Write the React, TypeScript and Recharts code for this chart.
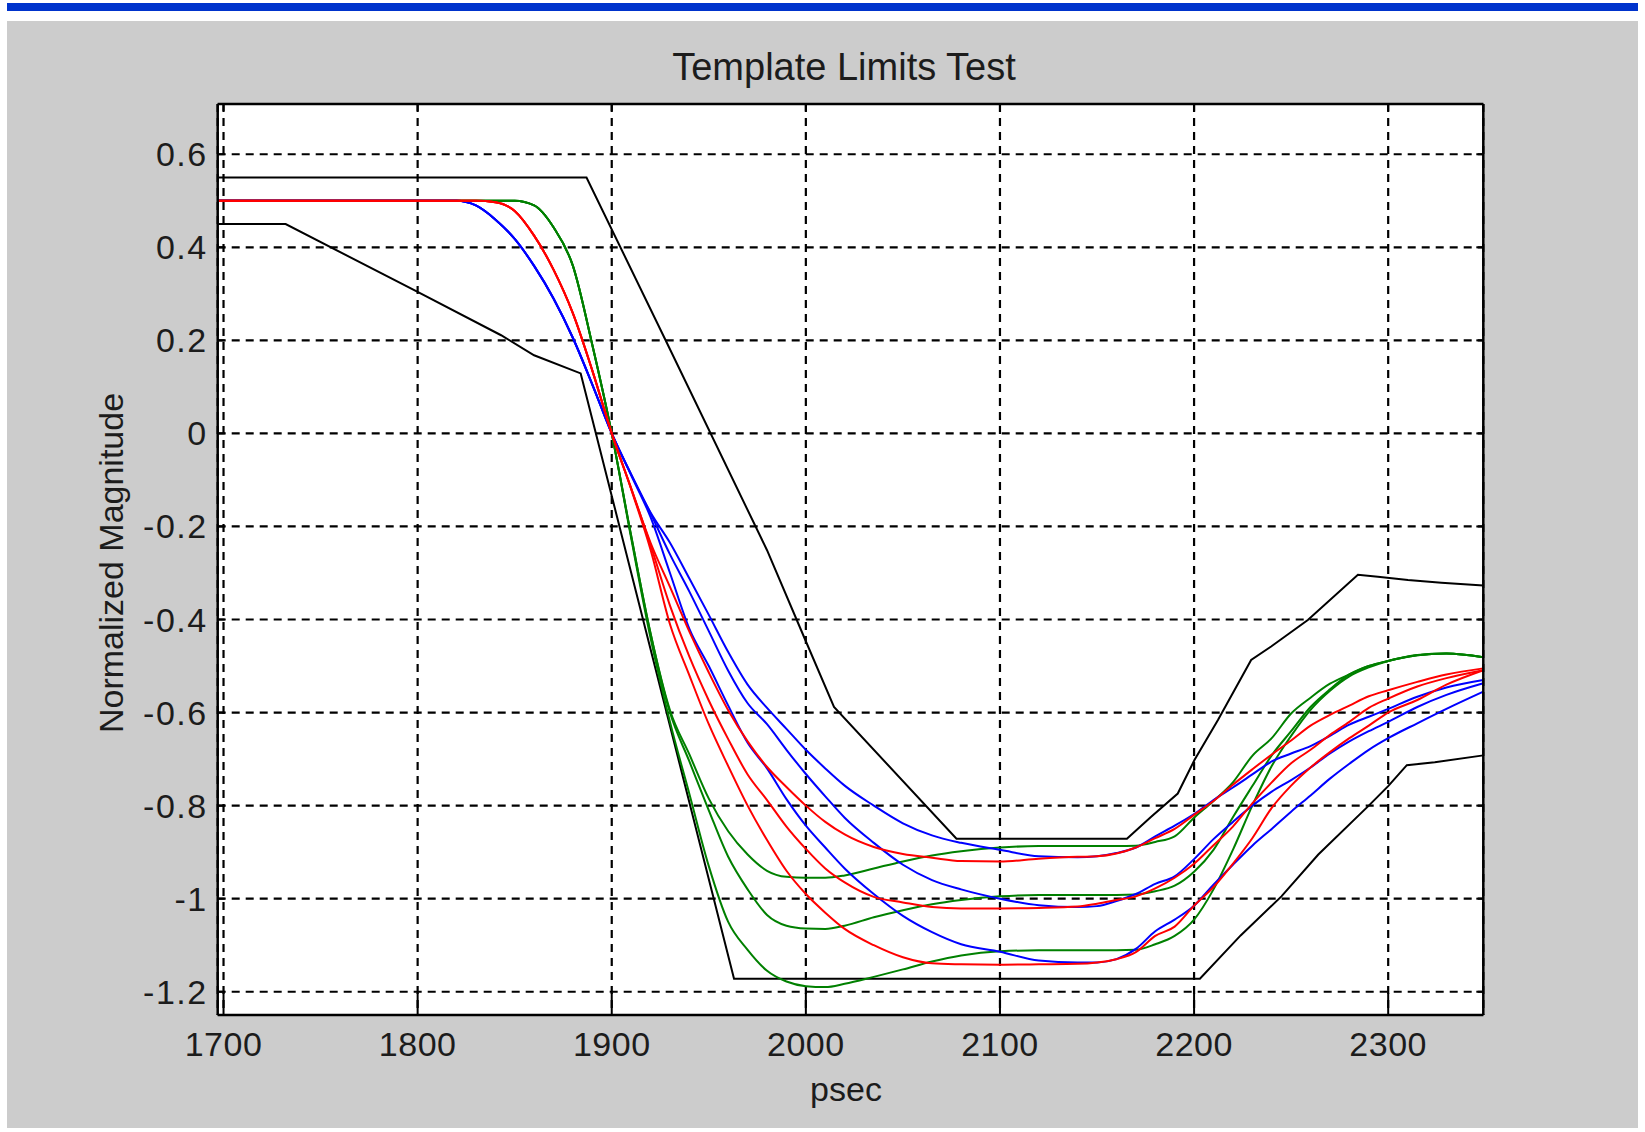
import React from 'react';
import { LineChart, Line, XAxis, YAxis, CartesianGrid } from 'recharts';

// ---------- data ----------
const xs = [1697, 1820, 1830, 1840, 1850, 1860, 1870, 1880, 1890, 1900, 1910, 1920, 1930, 1940, 1950, 1960, 1970, 1980, 1990, 2000, 2010, 2020, 2035, 2050, 2065, 2080, 2100, 2120, 2140, 2150, 2160, 2170, 2180, 2190, 2200, 2210, 2220, 2230, 2240, 2250, 2260, 2270, 2280, 2290, 2300, 2315, 2330, 2349];

const green1 = [0.5, 0.5, 0.5, 0.5, 0.5, 0.49, 0.443, 0.36, 0.19, 0, -0.22, -0.43, -0.595, -0.69, -0.785, -0.855, -0.905, -0.94, -0.953, -0.955, -0.955, -0.95, -0.935, -0.92, -0.907, -0.898, -0.89, -0.887, -0.887, -0.887, -0.887, -0.886, -0.878, -0.866, -0.826, -0.79, -0.75, -0.693, -0.655, -0.602, -0.568, -0.538, -0.518, -0.5, -0.489, -0.476, -0.473, -0.481];
const green2 = [0.5, 0.5, 0.5, 0.5, 0.5, 0.49, 0.443, 0.36, 0.19, 0, -0.22, -0.43, -0.6, -0.705, -0.81, -0.91, -0.98, -1.035, -1.058, -1.064, -1.065, -1.058, -1.04, -1.025, -1.012, -1.003, -0.995, -0.992, -0.992, -0.992, -0.992, -0.991, -0.984, -0.972, -0.942, -0.895, -0.825, -0.758, -0.692, -0.64, -0.588, -0.55, -0.518, -0.5, -0.489, -0.477, -0.473, -0.481];
const green3 = [0.5, 0.5, 0.5, 0.5, 0.5, 0.49, 0.443, 0.36, 0.19, 0, -0.225, -0.44, -0.62, -0.775, -0.93, -1.05, -1.11, -1.155, -1.178, -1.188, -1.19, -1.183, -1.168, -1.152, -1.135, -1.122, -1.113, -1.111, -1.111, -1.111, -1.111, -1.11, -1.098, -1.08, -1.045, -0.98, -0.895, -0.8, -0.715, -0.65, -0.594, -0.553, -0.522, -0.503, -0.489, -0.477, -0.473, -0.481];

const red1 = [0.5, 0.5, 0.5, 0.497, 0.478, 0.425, 0.352, 0.258, 0.135, 0, -0.118, -0.235, -0.33, -0.426, -0.514, -0.595, -0.662, -0.717, -0.76, -0.8, -0.835, -0.862, -0.889, -0.904, -0.912, -0.919, -0.92, -0.914, -0.91, -0.909, -0.903, -0.89, -0.87, -0.85, -0.82, -0.79, -0.755, -0.722, -0.69, -0.66, -0.628, -0.605, -0.585, -0.565, -0.552, -0.534, -0.518, -0.505];
const red2 = [0.5, 0.5, 0.5, 0.497, 0.478, 0.425, 0.352, 0.258, 0.135, 0, -0.118, -0.24, -0.37, -0.48, -0.574, -0.657, -0.733, -0.788, -0.845, -0.893, -0.935, -0.965, -0.996, -1.008, -1.018, -1.021, -1.021, -1.02, -1.017, -1.011, -1.003, -0.995, -0.978, -0.955, -0.925, -0.885, -0.845, -0.795, -0.75, -0.709, -0.68, -0.648, -0.62, -0.59, -0.57, -0.544, -0.526, -0.509];
const red3 = [0.5, 0.5, 0.5, 0.497, 0.478, 0.425, 0.352, 0.258, 0.135, 0, -0.12, -0.25, -0.41, -0.52, -0.625, -0.715, -0.8, -0.874, -0.94, -0.99, -1.03, -1.065, -1.1, -1.126, -1.139, -1.141, -1.142, -1.141, -1.14, -1.137, -1.13, -1.115, -1.08, -1.06, -1.015, -0.975, -0.925, -0.87, -0.805, -0.757, -0.718, -0.685, -0.655, -0.628, -0.6, -0.573, -0.54, -0.509];

const blue1 = [0.5, 0.5, 0.49, 0.46, 0.418, 0.36, 0.29, 0.205, 0.105, 0, -0.088, -0.17, -0.235, -0.312, -0.39, -0.47, -0.54, -0.59, -0.635, -0.68, -0.72, -0.757, -0.8, -0.838, -0.864, -0.88, -0.895, -0.909, -0.911, -0.909, -0.902, -0.89, -0.866, -0.843, -0.818, -0.788, -0.761, -0.733, -0.705, -0.688, -0.672, -0.65, -0.626, -0.609, -0.592, -0.566, -0.546, -0.53];
const blue2 = [0.5, 0.5, 0.49, 0.46, 0.418, 0.36, 0.29, 0.205, 0.105, 0, -0.088, -0.172, -0.26, -0.34, -0.425, -0.51, -0.58, -0.625, -0.68, -0.732, -0.78, -0.826, -0.88, -0.927, -0.96, -0.98, -1.0, -1.014, -1.018, -1.016, -1.005, -0.99, -0.968, -0.952, -0.915, -0.872, -0.835, -0.8, -0.77, -0.745, -0.718, -0.688, -0.662, -0.64, -0.62, -0.588, -0.562, -0.537];
const blue3 = [0.5, 0.5, 0.49, 0.46, 0.418, 0.36, 0.29, 0.205, 0.105, 0, -0.09, -0.18, -0.3, -0.42, -0.5, -0.585, -0.665, -0.72, -0.786, -0.843, -0.89, -0.935, -0.99, -1.037, -1.072, -1.098, -1.114, -1.133, -1.137, -1.137, -1.13, -1.108, -1.07, -1.045, -1.015, -0.97, -0.927, -0.886, -0.85, -0.813, -0.778, -0.742, -0.71, -0.68, -0.655, -0.623, -0.592, -0.555];

const upperX = [1697, 1887, 1928, 1980, 1999, 2014.5, 2077.6, 2165.4, 2177.9, 2191.6, 2200.2, 2212.3, 2229.4, 2239.7, 2258.6, 2284.4, 2294.7, 2310.2, 2327.4, 2349];
const upperY = [0.55, 0.55, 0.198, -0.251, -0.437, -0.588, -0.871, -0.871, -0.824, -0.774, -0.702, -0.616, -0.487, -0.458, -0.401, -0.304, -0.308, -0.315, -0.321, -0.327];

const lowerX = [1697, 1732, 1800, 1843, 1860, 1884, 1963, 2203, 2224, 2245, 2264, 2290, 2300, 2309.6, 2324, 2349];
const lowerY = [0.45, 0.45, 0.304, 0.211, 0.168, 0.129, -1.172, -1.172, -1.079, -0.995, -0.905, -0.8, -0.758, -0.713, -0.707, -0.692];

const xTicks = [1700, 1800, 1900, 2000, 2100, 2200, 2300];
const yTicks = [0.6, 0.4, 0.2, 0, -0.2, -0.4, -0.6, -0.8, -1, -1.2];
const yTickLabels = ['0.6', '0.4', '0.2', '0', '-0.2', '-0.4', '-0.6', '-0.8', '-1', '-1.2'];

const titleText = 'Template Limits Test';
const xLabelText = 'psec';
const yLabelText = 'Normalized Magnitude';

// ---------- tables built from the arrays ----------
const curveRows = xs.map((x, i) => ({
  x,
  g1: green1[i], g2: green2[i], g3: green3[i],
  b1: blue1[i], b2: blue2[i], b3: blue3[i],
  r1: red1[i], r2: red2[i], r3: red3[i],
}));
const upperRows = upperX.map((x, i) => ({ x, lim: upperY[i] }));
const lowerRows = lowerX.map((x, i) => ({ x, lim: lowerY[i] }));

// ---------- layout ----------
const W = 1645;
const H = 1132;
const PLOT_L = 217.7;
const PLOT_T = 104;
const PLOT_R = 1483.3;
const PLOT_B = 1015;
const LEFT_AXIS_W = 100;
const RIGHT_AXIS_W = 10;
const TOP_AXIS_H = 10;
const BOTTOM_AXIS_H = 60;

const FONT = '"Liberation Sans", Arial, Helvetica, sans-serif';
const TXT = '#1c1c1c';
const TICK_FS = 34;
const LEFT_GAP = 10;

const LeftTick = (props: any) => {
  const { x, y, payload } = props;
  const idx = yTicks.indexOf(payload.value);
  const label = idx >= 0 ? yTickLabels[idx] : String(payload.value);
  return (
    <g>
      <line x1={x + LEFT_GAP} x2={x + LEFT_GAP + 7} y1={y} y2={y} stroke="#000" strokeWidth={2} />
      <text x={x} y={y} textAnchor="end" dominantBaseline="central" fontSize={TICK_FS} letterSpacing={1.5} fontFamily={FONT} fill={TXT}>
        {label}
      </text>
    </g>
  );
};

const RightTick = (props: any) => {
  const { x, y } = props;
  return <line x1={x} x2={x - 7} y1={y} y2={y} stroke="#000" strokeWidth={2} />;
};

const BottomTick = (props: any) => {
  const { x, y, payload } = props;
  return (
    <g>
      <line x1={x} x2={x} y1={y} y2={y - 22} stroke="#000" strokeWidth={2} />
      <text x={x} y={y + 29} textAnchor="middle" dominantBaseline="central" fontSize={TICK_FS} letterSpacing={0.5} fontFamily={FONT} fill={TXT}>
        {payload.value}
      </text>
    </g>
  );
};

const TopTick = (props: any) => {
  const { x, y } = props;
  return <line x1={x} x2={x} y1={y} y2={y + 7} stroke="#000" strokeWidth={2} />;
};

const X_DOMAIN: [number, number] = [1697, 2349];
const Y_DOMAIN: [number, number] = [-1.25, 0.708];

const GREEN = '#008000';
const BLUE = '#0000ff';
const RED = '#ff0000';

export default function App() {
  const lineCommon = {
    dot: false,
    activeDot: false,
    isAnimationActive: false,
    strokeWidth: 2,
    type: 'monotone' as const,
  };
  return (
    <div style={{ position: 'absolute', left: 0, top: 0, width: W, height: H, background: '#ffffff', overflow: 'hidden' }}>
      <div style={{ position: 'absolute', left: 7, top: 3, width: 1631, height: 8, background: '#0033cc' }} />
      <div style={{ position: 'absolute', left: 7, top: 21, width: 1631, height: 1107, background: '#cccccc' }} />
      <div style={{ position: 'absolute', left: 0, top: 0 }}>
        <LineChart
          width={W}
          height={H}
          data={curveRows}
          margin={{
            top: PLOT_T - TOP_AXIS_H,
            left: PLOT_L - LEFT_AXIS_W,
            right: W - PLOT_R - RIGHT_AXIS_W,
            bottom: H - PLOT_B - BOTTOM_AXIS_H,
          }}
        >
          <CartesianGrid
            fill="#ffffff"
            stroke="#000"
            strokeWidth={2.2}
            strokeDasharray="8 6"
          />
          <XAxis
            dataKey="x"
            type="number"
            domain={X_DOMAIN}
            allowDataOverflow
            ticks={xTicks}
            interval={0}
            height={BOTTOM_AXIS_H}
            tickSize={0}
            tickMargin={0}
            tickLine={false}
            axisLine={{ stroke: '#000', strokeWidth: 2.5 }}
            tick={<BottomTick />}
          />
          <XAxis
            xAxisId="top"
            orientation="top"
            dataKey="x"
            type="number"
            domain={X_DOMAIN}
            allowDataOverflow
            ticks={xTicks}
            interval={0}
            height={TOP_AXIS_H}
            tickSize={0}
            tickMargin={0}
            tickLine={false}
            axisLine={{ stroke: '#000', strokeWidth: 2.5 }}
            tick={<TopTick />}
          />
          <YAxis
            type="number"
            domain={Y_DOMAIN}
            allowDataOverflow
            ticks={yTicks}
            interval={0}
            width={LEFT_AXIS_W}
            tickSize={0}
            tickMargin={LEFT_GAP}
            tickLine={false}
            axisLine={{ stroke: '#000', strokeWidth: 2.5 }}
            tick={<LeftTick />}
          />
          <YAxis
            yAxisId="right"
            orientation="right"
            type="number"
            domain={Y_DOMAIN}
            allowDataOverflow
            ticks={yTicks}
            interval={0}
            width={RIGHT_AXIS_W}
            tickSize={0}
            tickMargin={0}
            tickLine={false}
            axisLine={{ stroke: '#000', strokeWidth: 2.5 }}
            tick={<RightTick />}
          />

          <Line data={upperRows} dataKey="lim" stroke="#000" dot={false} activeDot={false} isAnimationActive={false} strokeWidth={2} type="linear" />
          <Line data={lowerRows} dataKey="lim" stroke="#000" dot={false} activeDot={false} isAnimationActive={false} strokeWidth={2} type="linear" />

          <Line dataKey="g1" stroke={GREEN} {...lineCommon} />
          <Line dataKey="g2" stroke={GREEN} {...lineCommon} />
          <Line dataKey="g3" stroke={GREEN} {...lineCommon} />
          <Line dataKey="b1" stroke={BLUE} {...lineCommon} />
          <Line dataKey="b2" stroke={BLUE} {...lineCommon} />
          <Line dataKey="b3" stroke={BLUE} {...lineCommon} />
          <Line dataKey="r1" stroke={RED} {...lineCommon} />
          <Line dataKey="r2" stroke={RED} {...lineCommon} />
          <Line dataKey="r3" stroke={RED} {...lineCommon} />
        </LineChart>
      </div>
      <svg
        width={W}
        height={H}
        style={{ position: 'absolute', left: 0, top: 0, pointerEvents: 'none' }}
      >
        <text x={844} y={80} textAnchor="middle" fontSize={38} fontFamily={FONT} fill={TXT}>
          {titleText}
        </text>
        <text x={846} y={1101} textAnchor="middle" fontSize={34} fontFamily={FONT} fill={TXT}>
          {xLabelText}
        </text>
        <text
          x={111}
          y={563}
          textAnchor="middle"
          dominantBaseline="central"
          fontSize={34}
          fontFamily={FONT}
          fill={TXT}
          transform="rotate(-90 111 563)"
        >
          {yLabelText}
        </text>
      </svg>
    </div>
  );
}
